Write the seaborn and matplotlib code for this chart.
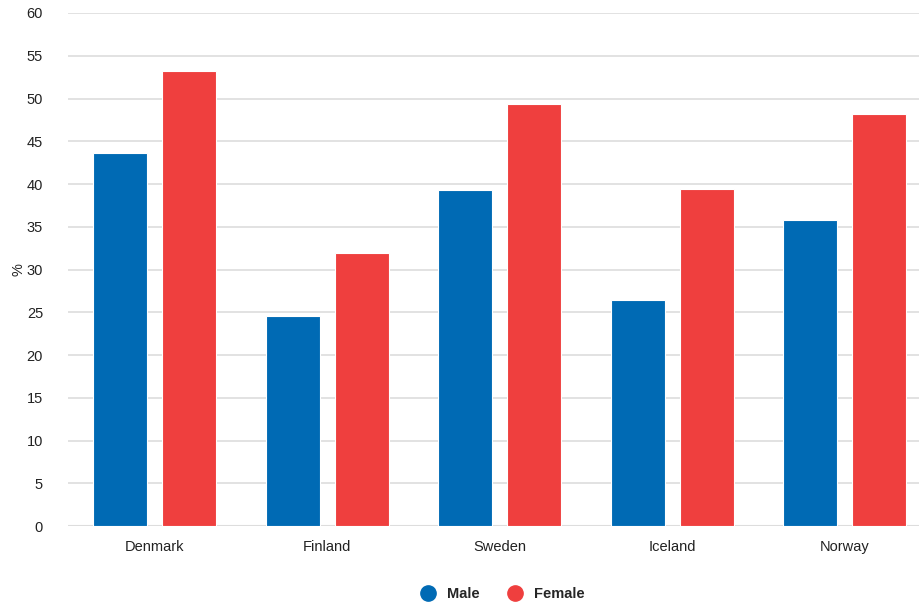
import matplotlib
matplotlib.use("Agg")
import matplotlib.pyplot as plt
from matplotlib.lines import Line2D
import seaborn as sns
import pandas as pd

countries = ["Denmark", "Finland", "Sweden", "Iceland", "Norway"]
male = [43.6, 24.6, 39.3, 26.4, 35.8]
female = [53.2, 31.9, 49.3, 39.4, 48.2]
series = ["Male", "Female"]
colors = {"Male": "#006AB4", "Female": "#EF3F3E"}

df = pd.DataFrame({
    "country": countries * 2,
    "sex": ["Male"] * len(countries) + ["Female"] * len(countries),
    "value": male + female,
})

sns.set_theme(style="white")
plt.rcParams["font.family"] = ["Liberation Sans", "DejaVu Sans"]

fig = plt.figure(figsize=(9.19, 6.04), dpi=100)
ax = fig.add_axes([0.074, 0.129, 0.926, 0.8495])

sns.barplot(data=df, x="country", y="value", hue="sex", hue_order=series,
            palette=colors, saturation=1, width=0.8, gap=0.217,
            edgecolor="white", linewidth=0.8, ax=ax, legend=False, zorder=3)

ax.set_ylim(0, 60)
ax.set_yticks(range(0, 61, 5))
ax.set_xlim(-0.501, 4.43)
ax.yaxis.grid(True, color="#dddddd", linewidth=1.2, zorder=0)
ax.set_axisbelow(True)
for s in ["top", "right", "left", "bottom"]:
    ax.spines[s].set_visible(False)
ax.axhline(0, color="#dddddd", linewidth=1.5, zorder=1)

ax.set_xlabel("")
ax.set_ylabel("%", fontsize=10.5, color="#222222", labelpad=1)
ax.tick_params(axis="both", length=0, labelsize=10.5, colors="#222222")
ax.tick_params(axis="y", pad=18)
ax.tick_params(axis="x", pad=10)

handles = [Line2D([0], [0], marker="o", linestyle="", markersize=11,
                  markerfacecolor=colors[s], markeredgecolor=colors[s])
           for s in series]
leg = fig.legend(handles, series, loc="lower center", ncol=2, frameon=False,
                 bbox_to_anchor=(0.543, -0.017), prop={"weight": "bold", "size": 10.5},
                 handletextpad=0.3, columnspacing=1.4)

fig.savefig("out.png", dpi=100)
